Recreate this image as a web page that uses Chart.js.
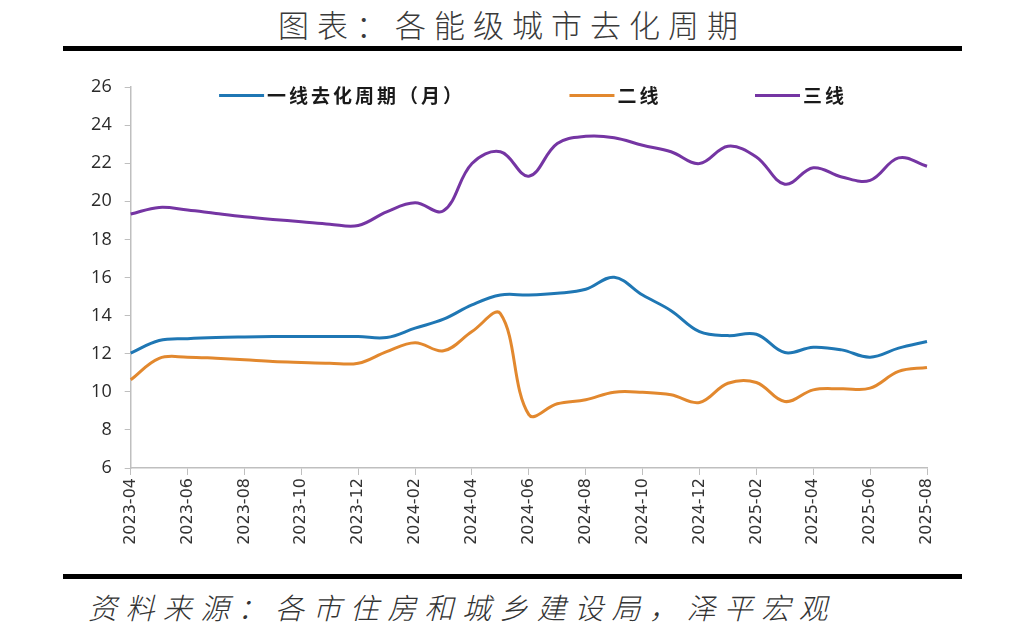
<!DOCTYPE html>
<html>
<head>
<meta charset="utf-8">
<script src="https://cdn.jsdelivr.net/npm/chart.js@4/dist/chart.umd.min.js"></script>
<style>
  html, body { margin: 0; padding: 0; background: #ffffff; }
  body { width: 1024px; height: 637px; position: relative; overflow: hidden; }
  #title { position: absolute; left: 0; top: 2px; width: 1024px; text-align: center;
    font-family: "Noto Sans CJK SC", sans-serif; font-weight: 300; font-size: 31px;
    letter-spacing: 8px; color: #3a3a3a; line-height: 44px; }
  .rule { position: absolute; left: 63px; width: 899px; height: 5px; background: #000; }
  #source { position: absolute; left: 86px; top: 585px; font-family: "Noto Sans CJK SC", sans-serif;
    font-weight: 300; font-size: 29px; letter-spacing: 8.4px; color: #333; line-height: 42px;
    transform: skewX(-14deg); transform-origin: left bottom; white-space: nowrap; }
  #wrap { position: absolute; left: 0; top: 60px; width: 1024px; height: 510px; }
</style>
</head>
<body>
<div id="title">图表：各能级城市去化周期</div>
<div class="rule" style="top:46px"></div>
<div id="wrap"><canvas id="c"></canvas></div>
<div class="rule" style="top:574px"></div>
<div id="source">资料来源：各市住房和城乡建设局，泽平宏观</div>
<script>
const months = ["2023-04","2023-05","2023-06","2023-07","2023-08","2023-09","2023-10","2023-11","2023-12",
  "2024-01","2024-02","2024-03","2024-04","2024-05","2024-06","2024-07","2024-08","2024-09","2024-10",
  "2024-11","2024-12","2025-01","2025-02","2025-03","2025-04","2025-05","2025-06","2025-07","2025-08"];
const tier1 = [12.03,12.69,12.79,12.85,12.88,12.90,12.90,12.90,12.90,12.85,13.34,13.81,14.56,15.08,15.08,
  15.17,15.38,16.01,15.08,14.26,13.16,12.95,13.02,12.06,12.34,12.20,11.82,12.29,12.64];
const tier2 = [10.63,11.76,11.82,11.76,11.68,11.59,11.54,11.50,11.50,12.11,12.58,12.15,13.16,14.10,8.80,
  9.37,9.58,9.98,9.97,9.84,9.44,10.45,10.49,9.49,10.10,10.16,10.19,11.07,11.28];
const tier3 = [19.33,19.68,19.54,19.36,19.19,19.05,18.93,18.80,18.73,19.45,19.92,19.50,21.98,22.60,21.32,
  23.03,23.41,23.34,22.94,22.60,21.98,22.89,22.33,20.90,21.76,21.28,21.10,22.28,21.84];
const seriesNames = ["一线去化周期（月）","二线","三线"];
const seriesColors = ["#1f77b4","#e2882e","#7535a3"];
const yTicks = { min: 6, max: 26, step: 2 };

const mk = (label, data, color) => ({ label, data, borderColor: color, backgroundColor: color,
  borderWidth: 3, pointRadius: 0, pointHoverRadius: 0, tension: 0.38, fill: false });

// legend drawn inside the chart area (item starts as fractions of chart-area width)
const legendStarts = [0.111, 0.551, 0.784];
const insideLegend = {
  id: "insideLegend",
  afterDatasetsDraw(chart) {
    const { ctx, chartArea } = chart;
    const w = chartArea.right - chartArea.left;
    const y = chartArea.top + 8.5;
    ctx.save();
    ctx.font = "bold 19px 'Noto Sans CJK SC', sans-serif";
    if ("letterSpacing" in ctx) ctx.letterSpacing = "3px";
    ctx.textBaseline = "middle";
    ctx.fillStyle = "#1a1a1a";
    chart.data.datasets.forEach((d, i) => {
      const x = chartArea.left + legendStarts[i] * w;
      ctx.strokeStyle = d.borderColor;
      ctx.lineWidth = 3;
      ctx.beginPath(); ctx.moveTo(x, y); ctx.lineTo(x + 45, y); ctx.stroke();
      ctx.fillText(d.label, x + 48, y);
    });
    ctx.restore();
  }
};

const axisGrey = "#bfbfbf";
new Chart(document.getElementById("c"), {
  type: "line",
  data: { labels: months, datasets: [
    mk(seriesNames[0], tier1, seriesColors[0]),
    mk(seriesNames[1], tier2, seriesColors[1]),
    mk(seriesNames[2], tier3, seriesColors[2]) ] },
  plugins: [insideLegend],
  options: {
    responsive: true, maintainAspectRatio: false, animation: false,
    layout: { padding: { top: 27, right: 97, left: 0, bottom: 0 } },
    plugins: { title: { display: false }, tooltip: { enabled: false }, legend: { display: false } },
    scales: {
      x: { offset: false,
        afterFit(s) { s.height = 102; },
        border: { color: axisGrey, width: 1.5 },
        grid: { drawOnChartArea: false, drawTicks: true, tickLength: 7,
          color: c => (c.index % 2 === 0 ? axisGrey : "rgba(0,0,0,0)") },
        ticks: { autoSkip: false, minRotation: 90, maxRotation: 90, padding: 3, color: "#333",
          font: { family: "'DejaVu Sans', sans-serif", size: 16 },
          callback(v, i) { return i % 2 === 0 ? months[i] : ""; } } },
      y: { min: yTicks.min, max: yTicks.max,
        afterFit(s) { s.width = 130.7; },
        border: { color: axisGrey, width: 1.5 },
        grid: { drawOnChartArea: false, drawTicks: true, tickLength: 6, color: axisGrey },
        ticks: { stepSize: yTicks.step, padding: 13, color: "#2a2a2a",
          font: { family: "'Open Sans', sans-serif", size: 18 } } }
    }
  }
});
</script>
</body>
</html>
